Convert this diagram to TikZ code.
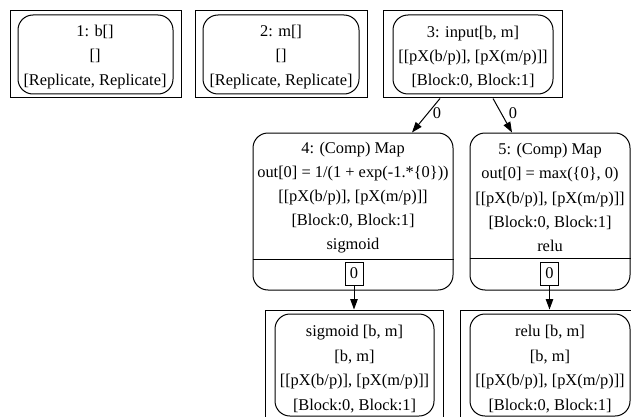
\documentclass[tikz,border=0pt]{standalone}
\usepackage{fontspec}
\setmainfont{Liberation Serif}
\usetikzlibrary{arrows.meta,calc}
\begin{document}
\begin{tikzpicture}[x=1pt,y=-1pt,
  every node/.style={font=\fontsize{16.4}{24.2}\selectfont, inner sep=0pt, align=center},
  frame/.style={draw, line width=1pt, rectangle},
  rbox/.style={draw, line width=1pt, rounded corners=15pt},
  port/.style={draw, line width=1pt, minimum width=18pt, minimum height=23pt},
  flow/.style={draw, line width=1pt, -{Triangle[length=10.5pt,width=7.5pt]}},
]
\useasboundingbox (0,0) rectangle (631,417);
\clip (0,0) rectangle (631,417);

% top row: tensors b, m and the input
\node[frame, minimum width=171pt, minimum height=87pt] (f1) at (95.5,54.5) {};
\node[rbox, minimum width=155pt, minimum height=79pt] (b1) at (95.5,54.5) {};
\node (t1) at (95,57) {1: b[]\\ {[]}\\ {[Replicate, Replicate]}};

\node[frame, minimum width=172pt, minimum height=87pt] (f2) at (281,54.5) {};
\node[rbox, minimum width=156pt, minimum height=79pt] (b2) at (281,54.5) {};
\node (t2) at (281,57) {2: m[]\\ {[]}\\ {[Replicate, Replicate]}};

\node[frame, minimum width=179pt, minimum height=87pt] (f3) at (472.5,54.5) {};
\node[rbox, minimum width=160pt, minimum height=79pt] (b3) at (473,54.5) {};
\node (t3) at (473,57) {3: input[b, m]\\ {[[pX(b/p)], [pX(m/p)]]}\\ {[Block:0, Block:1]}};

% map operations
\node[rbox, minimum width=200pt, minimum height=157pt] (m4) at (353,211.5) {};
\node (t4) at (353,197.5)
  {4: (Comp) Map\\ out[0] = 1/(1 + exp(-1.*\{0\}))\\ {[[pX(b/p)], [pX(m/p)]]}\\ {[Block:0, Block:1]}\\ sigmoid};
\draw[line width=1pt] (m4.west |- 0,259) -- (m4.east |- 0,259);
\node[port] (p4) at (354,273.5) {0};

\node[rbox, minimum width=160pt, minimum height=157pt] (m5) at (550,211.5) {};
\node (t5) at (550,197.5)
  {5: (Comp) Map\\ out[0] = max(\{0\}, 0)\\ {[[pX(b/p)], [pX(m/p)]]}\\ {[Block:0, Block:1]}\\ relu};
\draw[line width=1pt] (m5.west |- 0,258.5) -- (m5.east |- 0,258.5);
\node[port] (p5) at (549.5,273.5) {0};

% results
\node[frame, minimum width=178pt, minimum height=120pt] (f6) at (354,370) {};
\node[rbox, minimum width=159pt, minimum height=102pt] (b6) at (354.5,365) {};
\node[font=\fontsize{16.4}{24.8}\selectfont] (t6) at (354.5,369)
  {sigmoid [b, m]\\ {[b, m]}\\ {[[pX(b/p)], [pX(m/p)]]}\\ {[Block:0, Block:1]}};

\node[frame, minimum width=180pt, minimum height=120pt] (f7) at (550,370) {};
\node[rbox, minimum width=160pt, minimum height=102pt] (b7) at (550,365) {};
\node[font=\fontsize{16.4}{24.8}\selectfont] (t7) at (550,369)
  {relu [b, m]\\ {[b, m]}\\ {[[pX(b/p)], [pX(m/p)]]}\\ {[Block:0, Block:1]}};

% connectors
\draw[flow] ($(f3.south)+(-32.5,0)$) -- ($(m4.north)+(59,0)$);
\draw[flow] ($(f3.south)+(20.5,0)$) -- ($(m5.north)+(-38,0)$);
\node (l4) at (437,113) {0};
\node (l5) at (513,113) {0};
\draw[flow] (p4.south) -- (p4.south |- f6.north);
\draw[flow] (p5.south) -- (p5.south |- f7.north);
\end{tikzpicture}
\end{document}
